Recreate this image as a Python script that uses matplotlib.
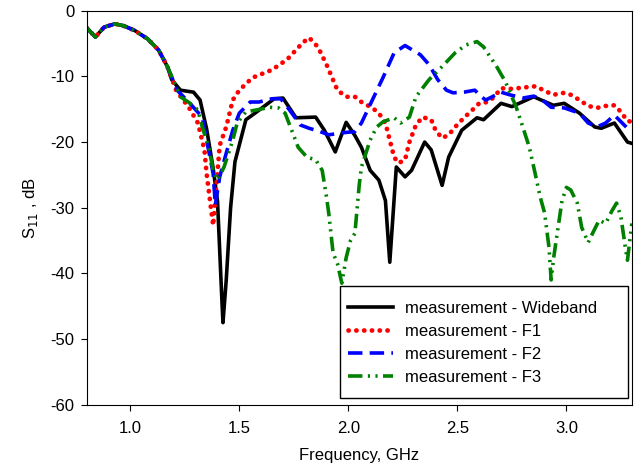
import matplotlib
matplotlib.use("Agg")
import matplotlib.pyplot as plt
from matplotlib.patches import Rectangle

plt.rcParams['font.family'] = ['Liberation Sans', 'DejaVu Sans']

common_f = [0.80, 0.84, 0.88, 0.93, 0.97, 1.02, 1.08, 1.13, 1.17]
common_s = [-2.6, -4.0, -2.5, -2.0, -2.3, -3.0, -4.3, -6.0, -8.5]

wb_f = common_f + [1.19, 1.23, 1.29, 1.32, 1.35, 1.38, 1.40, 1.42, 1.425, 1.44, 1.46, 1.48, 1.53, 1.58,
                   1.66, 1.70, 1.76, 1.85, 1.89, 1.94, 1.99, 2.03, 2.06, 2.10, 2.14, 2.17, 2.19, 2.22,
                   2.26, 2.29, 2.35, 2.38, 2.43, 2.46, 2.52, 2.59, 2.62, 2.70, 2.75, 2.85, 2.94, 2.99,
                   3.06, 3.13, 3.16, 3.22, 3.28, 3.30]
wb_s = common_s + [-10.5, -12.1, -12.4, -13.6, -18.0, -24.0, -29.0, -44.0, -47.5, -41.0, -30.0, -23.0, -16.6, -15.4,
                   -13.4, -13.3, -16.3, -16.2, -18.2, -21.5, -17.0, -19.0, -20.8, -24.3, -25.8, -28.9, -38.3, -23.8,
                   -25.3, -24.3, -20.0, -21.2, -26.6, -22.3, -18.2, -16.3, -16.6, -14.1, -14.6, -13.1, -14.4, -14.1,
                   -15.6, -17.7, -17.9, -17.1, -20.0, -20.2]

f1_f = common_f + [1.21, 1.27, 1.31, 1.34, 1.35, 1.38, 1.41, 1.44, 1.47, 1.50, 1.56, 1.65, 1.72, 1.79, 1.82,
                   1.86, 1.90, 1.95, 1.99, 2.03, 2.06, 2.11, 2.14, 2.17, 2.19, 2.20, 2.21, 2.23, 2.26, 2.28,
                   2.31, 2.34, 2.38, 2.40, 2.43, 2.46, 2.49, 2.53, 2.56, 2.60, 2.64, 2.67, 2.70, 2.75, 2.83,
                   2.86, 2.90, 2.94, 2.99, 3.02, 3.06, 3.10, 3.14, 3.18, 3.22, 3.25, 3.28, 3.30]
f1_s = common_s + [-12.1, -14.8, -17.1, -21.2, -24.8, -32.7, -20.5, -17.7, -13.6, -12.1, -10.2, -9.0, -7.4, -4.9, -4.1,
                   -5.5, -8.2, -12.1, -13.1, -13.1, -13.9, -14.8, -15.6, -17.1, -19.7, -21.0, -22.3, -23.2, -22.7, -20.0,
                   -17.4, -16.2, -16.6, -18.2, -19.4, -18.9, -17.7, -16.3, -15.4, -14.1, -13.9, -13.1, -11.8, -11.9, -11.6,
                   -11.5, -12.2, -12.8, -12.5, -12.8, -13.6, -14.5, -14.8, -14.5, -14.4, -15.4, -16.8, -16.9]

f2_f = common_f + [1.215, 1.27, 1.33, 1.35, 1.38, 1.39, 1.41, 1.44, 1.47, 1.50, 1.55, 1.59, 1.65, 1.69, 1.73,
                   1.78, 1.82, 1.87, 1.91, 1.97, 2.03, 2.06, 2.11, 2.16, 2.21, 2.26, 2.33, 2.37, 2.41, 2.45,
                   2.48, 2.53, 2.58, 2.61, 2.63, 2.66, 2.70, 2.74, 2.80, 2.85, 2.89, 2.93, 2.99, 3.06, 3.10,
                   3.14, 3.18, 3.22, 3.25, 3.28, 3.30]
f2_s = common_s + [-12.1, -14.0, -16.2, -19.7, -24.8, -29.6, -25.3, -21.7, -18.2, -15.6, -13.9, -13.9, -13.4, -13.4, -15.1,
                   -17.4, -17.9, -18.4, -18.9, -18.6, -18.4, -17.1, -13.6, -10.1, -6.4, -5.3, -6.7, -8.2, -10.5, -12.1,
                   -12.5, -12.4, -12.1, -13.1, -13.6, -13.1, -12.4, -12.8, -13.3, -13.0, -13.6, -14.7, -14.8, -15.6, -17.1,
                   -17.7, -17.1, -15.9, -16.9, -17.9, -17.9]

f3_f = common_f + [1.23, 1.27, 1.31, 1.33, 1.36, 1.38, 1.40, 1.43, 1.47, 1.49, 1.53, 1.58, 1.64, 1.68, 1.71,
                   1.74, 1.77, 1.81, 1.85, 1.88, 1.90, 1.91, 1.93, 1.95, 1.97, 1.99, 2.01, 2.03, 2.05, 2.06,
                   2.10, 2.13, 2.16, 2.21, 2.24, 2.28, 2.31, 2.37, 2.43, 2.49, 2.54, 2.59, 2.62, 2.68, 2.72,
                   2.77, 2.80, 2.83, 2.86, 2.88, 2.90, 2.92, 2.93, 2.94, 2.96, 2.98, 3.00, 3.02, 3.05, 3.07,
                   3.10, 3.12, 3.15, 3.18, 3.21, 3.23, 3.25, 3.27, 3.28, 3.30]
f3_s = common_s + [-13.1, -14.0, -15.1, -17.7, -20.8, -24.3, -25.8, -23.8, -19.7, -17.1, -15.4, -15.1, -14.7, -14.8, -15.6,
                   -18.2, -20.8, -22.3, -22.7, -24.3, -28.4, -30.8, -36.9, -38.5, -41.5, -37.6, -35.0, -33.9, -26.5, -23.8,
                   -19.7, -17.7, -16.9, -16.3, -17.1, -16.2, -13.1, -10.5, -8.5, -6.4, -5.2, -4.7, -5.5, -8.5, -10.8,
                   -14.7, -17.7, -20.8, -25.3, -28.4, -30.8, -36.0, -41.0, -38.0, -33.4, -28.9, -26.9, -27.3, -29.3, -33.0,
                   -35.3, -33.9, -31.9, -32.4, -30.4, -29.3, -31.4, -36.0, -38.0, -32.4]

labels = ["measurement - Wideband", "measurement - F1", "measurement - F2", "measurement - F3"]
xticks = [1.0, 1.5, 2.0, 2.5, 3.0]
yticks = [0, -10, -20, -30, -40, -50, -60]

fig = plt.figure(figsize=(6.35, 4.67), dpi=100)
ax = fig.add_axes([0.1365, 0.1334, 0.8585, 0.8436])

ax.plot(wb_f, wb_s, color='black', lw=2.6, label=labels[0])
ax.plot(f1_f, f1_s, color='red', lw=3.4, linestyle=(0, (0.05, 1.6)), dash_capstyle='round', label=labels[1])
ax.plot(f2_f, f2_s, color='blue', lw=2.6, linestyle=(0, (4, 2)), label=labels[2])
ax.plot(f3_f, f3_s, color='green', lw=2.6, linestyle=(0, (4, 1.5, 0.6, 1.5, 0.6, 1.5)), label=labels[3])

ax.set_xlim(0.8, 3.3)
ax.set_ylim(-60, 0)
ax.set_xticks(xticks)
ax.set_xticklabels([f"{v:.1f}" for v in xticks])
ax.set_yticks(yticks)
ax.set_yticklabels([str(v) for v in yticks])
ax.tick_params(direction='out', length=4, labelsize=12, top=False, right=False)
ax.tick_params(axis='x', pad=7.5)
ax.tick_params(axis='y', pad=5)
ax.set_xlabel("Frequency, GHz", fontsize=12, labelpad=9)
ax.set_ylabel("S$_{11}$ , dB", fontsize=12, labelpad=7)

# legend frame box (lower right)
box = Rectangle((0.4645, 0.017), 0.528, 0.284, transform=ax.transAxes, facecolor='white',
                edgecolor='black', linewidth=1.0, zorder=4)
ax.add_patch(box)
leg = ax.legend(loc='upper left', fontsize=12, frameon=False, handlelength=2.7, borderpad=0.5,
                borderaxespad=0, labelspacing=0.48, handletextpad=0.7,
                bbox_to_anchor=(0.4645, 0.285))
leg.set_zorder(5)

fig.savefig("out.png", dpi=100)
